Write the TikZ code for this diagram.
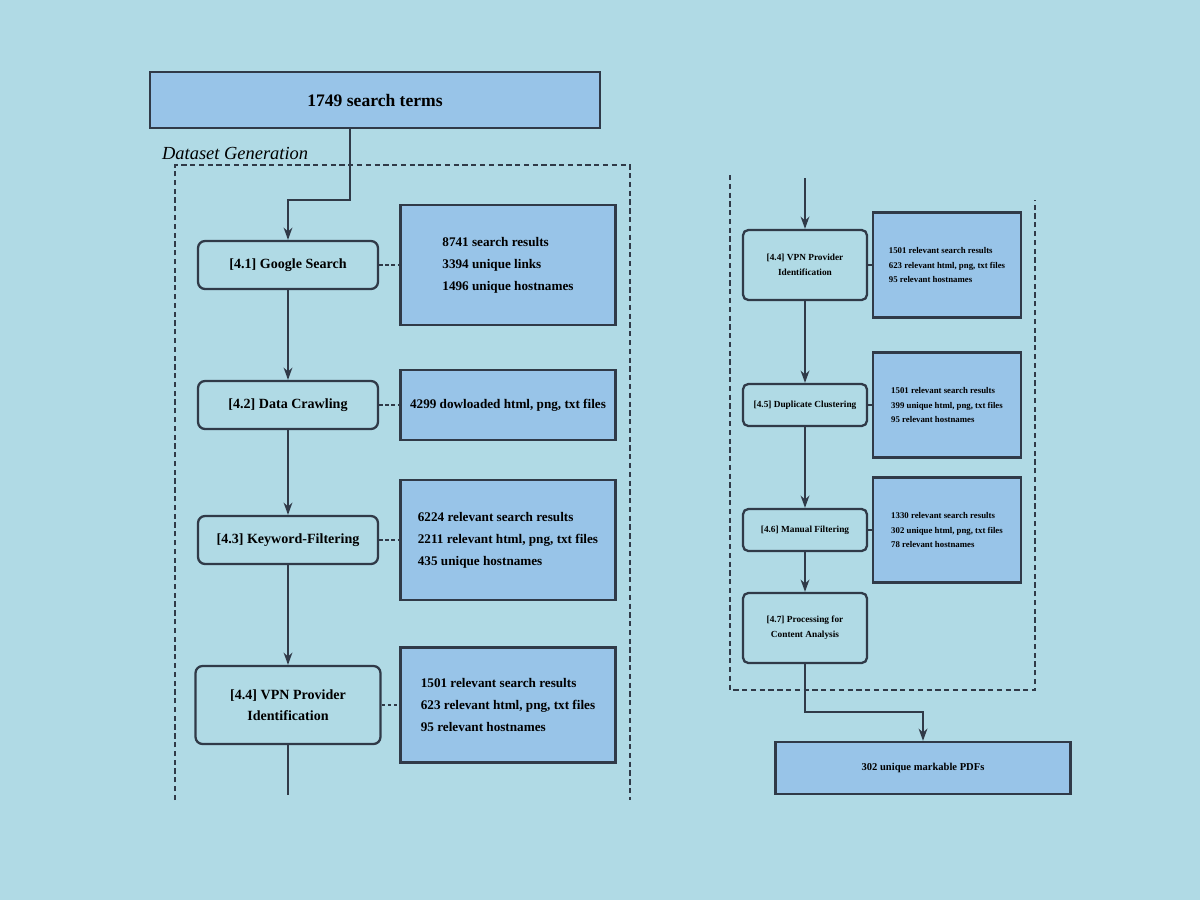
\documentclass[tikz,border=0pt]{standalone}
\usepackage{fontspec}
\setmainfont{Liberation Serif}
\usetikzlibrary{arrows.meta}
\definecolor{screen}{RGB}{176,218,229}
\definecolor{boxblue}{RGB}{152,196,232}
\definecolor{ink}{RGB}{48,58,72}
\tikzset{
  process/.style={draw=ink, line width=1.3pt, rounded corners=4pt, align=center,
    font=\fontsize{8}{12}\selectfont\bfseries, minimum height=0.96cm, inner sep=3pt},
  stats/.style={draw=ink, line width=1.3pt, fill=boxblue, align=left,
    font=\fontsize{7.5}{12.5}\selectfont\bfseries, minimum width=4.3cm},
  procsmall/.style={process, font=\fontsize{5.3}{8.5}\selectfont\bfseries,
    minimum width=2.48cm, minimum height=0.84cm, rounded corners=3pt},
  statsmall/.style={stats, font=\fontsize{5}{8.5}\selectfont\bfseries,
    minimum width=2.96cm, minimum height=2.1cm},
  frame/.style={draw=ink, line width=1pt, dash pattern=on 3pt off 2pt},
  link/.style={draw=ink, line width=1pt, dash pattern=on 2pt off 1.5pt},
  arr/.style={draw=ink, line width=1pt, -{Stealth[length=7pt,width=5pt]}}
}
\begin{document}
\begin{tikzpicture}[x=0.02cm, y=-0.02cm]
\fill[screen] (0,0) rectangle (1200,900);
\useasboundingbox (0,0) rectangle (1200,900);
% input
\node [stats, align=center, font=\fontsize{10}{12}\selectfont\bfseries,
  minimum width=9cm, minimum height=1.12cm] (terms) at (375,100) {1749 search terms};
\node [anchor=south west, font=\fontsize{10.5}{12}\selectfont\itshape, inner sep=1pt] (dsgen) at (160,162) {Dataset Generation};
\draw [frame] (175,800) -- (175,165) -- (630,165) -- (630,800);
% left column
\node [process, minimum width=3.6cm] (google) at (288,265) {[4.1] Google Search};
\node [process, minimum width=3.6cm] (crawl) at (288,405) {[4.2] Data Crawling};
\node [process, minimum width=3.6cm] (keyword) at (288,540) {[4.3] Keyword-Filtering};
\node [process, minimum width=3.7cm, minimum height=1.56cm] (vpn) at (288,705) {[4.4] VPN Provider\\Identification};
\node [stats, minimum height=2.4cm] (sgoogle) at (508,265) {8741 search results\\3394 unique links\\1496 unique hostnames};
\node [stats, minimum height=1.4cm] (scrawl) at (508,405) {4299 dowloaded html, png, txt files};
\node [stats, minimum height=2.4cm] (skeyword) at (508,540) {6224 relevant search results\\2211 relevant html, png, txt files\\435 unique hostnames};
\node [stats, minimum height=2.3cm] (svpn) at (508,705) {1501 relevant search results\\623 relevant html, png, txt files\\95 relevant hostnames};
\coordinate (bend1) at (288,200);
\coordinate (cont1) at (288,795);
\draw [arr] ([xshift=-0.5cm]terms.south) |- (bend1) -- (google.north);
\draw [arr] (google) -- (crawl);
\draw [arr] (crawl) -- (keyword);
\draw [arr] (keyword) -- (vpn);
\draw [draw=ink, line width=1pt] (vpn) -- (cont1);
\draw [link] (google) -- (sgoogle);
\draw [link] (crawl) -- (scrawl);
\draw [link] (keyword) -- (skeyword);
\draw [link] (vpn) -- (svpn);
% right column
\draw [frame] (730,175) -- (730,690) -- (1035,690) -- (1035,200);
\node [procsmall, minimum height=1.4cm] (vpnr) at (805,265) {[4.4] VPN Provider\\Identification};
\node [procsmall] (dupl) at (805,405) {[4.5] Duplicate Clustering};
\node [procsmall] (manual) at (805,530) {[4.6] Manual Filtering};
\node [procsmall, minimum height=1.4cm] (proc) at (805,628) {[4.7] Processing for\\Content Analysis};
\node [statsmall] (svpnr) at (947,265) {1501 relevant search results\\623 relevant html, png, txt files\\95 relevant hostnames};
\node [statsmall] (sdupl) at (947,405) {1501 relevant search results\\399 unique html, png, txt files\\95 relevant hostnames};
\node [statsmall] (smanual) at (947,530) {1330 relevant search results\\302 unique html, png, txt files\\78 relevant hostnames};
\node [stats, align=center, font=\fontsize{6}{8}\selectfont\bfseries,
  minimum width=5.9cm, minimum height=1.04cm] (pdfs) at (923,768) {302 unique markable PDFs};
\coordinate (cont2) at (805,178);
\coordinate (bend2) at (805,712);
\draw [arr] (cont2) -- (vpnr);
\draw [arr] (vpnr) -- (dupl);
\draw [arr] (dupl) -- (manual);
\draw [arr] (manual) -- (proc);
\draw [arr] (proc.south) -- (bend2) -| (pdfs.north);
\draw [link] (vpnr) -- (svpnr);
\draw [link] (dupl) -- (sdupl);
\draw [link] (manual) -- (smanual);
\end{tikzpicture}
\end{document}
